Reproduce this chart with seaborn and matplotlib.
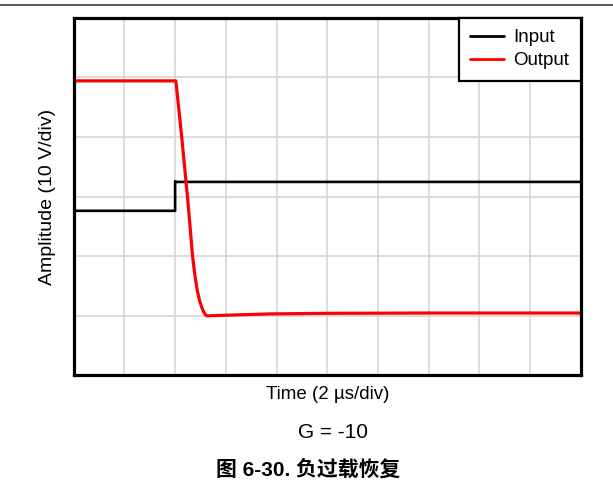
import matplotlib
matplotlib.use("Agg")
import matplotlib.pyplot as plt
import numpy as np
import pandas as pd
import seaborn as sns
from matplotlib.lines import Line2D

# Time in us, amplitude in V (10 V/div, 2 us/div)
input_time = [0.0, 4.0, 4.0, 4.05, 20.0]
input_volts = [-2.4, -2.4, 2.55, 2.45, 2.45]

output_time = [0.0, 4.03, 4.26, 4.50, 4.69, 4.78, 4.87, 4.96, 5.05, 5.13, 5.20, 5.27, 5.40,
               6.16, 7.74, 10.0, 14.0, 20.0]
output_volts = [19.4, 19.4, 10.0, -0.6, -10.1, -13.2, -15.7, -17.4, -18.6, -19.4, -19.85, -20.05, -20.0,
                -19.9, -19.7, -19.6, -19.55, -19.55]

series_names = ["Input", "Output"]
series_colors = ["black", "red"]

df = pd.concat([
    pd.DataFrame({"time": input_time, "volts": input_volts, "signal": "Input"}),
    pd.DataFrame({"time": output_time, "volts": output_volts, "signal": "Output"}),
], ignore_index=True)

sns.set_style("white")
plt.rcParams["font.family"] = ["Liberation Sans", "Noto Sans CJK SC", "DejaVu Sans"]
plt.rcParams["text.color"] = "black"
plt.rcParams["axes.labelcolor"] = "black"

fig = plt.figure(figsize=(6.13, 4.91), dpi=100)
ax = fig.add_axes([73.7 / 613, 1 - 375.3 / 491, (580.8 - 73.7) / 613, (375.3 - 17.7) / 491])

sns.lineplot(data=df, x="time", y="volts", hue="signal", hue_order=series_names,
             palette=series_colors, estimator=None, sort=False, ax=ax, legend=True)
for line, lw in zip(ax.get_lines(), [1.9, 2.3]):
    line.set_linewidth(lw)
    line.set_solid_joinstyle("round")

ax.set_xlim(0, 20)
ax.set_ylim(-30, 30)
ax.set_xticks(np.arange(0, 21, 2))
ax.set_yticks(np.arange(-30, 31, 10))
ax.tick_params(length=0, labelbottom=False, labelleft=False)
ax.grid(True, color="#d6d6d6", linewidth=1.2)
for sp in ax.spines.values():
    sp.set_color("black")
    sp.set_linewidth(2.3)

ax.set_xlabel("Time (2 µs/div)", fontsize=13.5, labelpad=8, color="black")
ax.set_ylabel("Amplitude (10 V/div)", fontsize=14, labelpad=13, color="black")

handles = [Line2D([], [], color=c, linewidth=2.0) for c in series_colors]
leg = ax.legend(handles, series_names, loc="upper right", bbox_to_anchor=(1, 1),
                borderaxespad=0, fontsize=13.5, handlelength=1.8, handletextpad=0.5,
                labelspacing=0.3, borderpad=0.62, fancybox=False, framealpha=1,
                edgecolor="black")
leg.get_frame().set_linewidth(1.6)
for t in leg.get_texts():
    t.set_color("black")

fig.text(333 / 613, 1 - 432 / 491, "G = -10", fontsize=15, ha="center", va="center", color="black")
fig.text(308 / 613, 1 - 470 / 491, "图 6-30. 负过载恢复", fontsize=15, fontweight="bold",
         ha="center", va="center", color="black")
fig.add_artist(Line2D([0, 1], [1 - 4.5 / 491, 1 - 4.5 / 491], color="#555555", linewidth=1.4))

fig.savefig("out.png", dpi=100)
